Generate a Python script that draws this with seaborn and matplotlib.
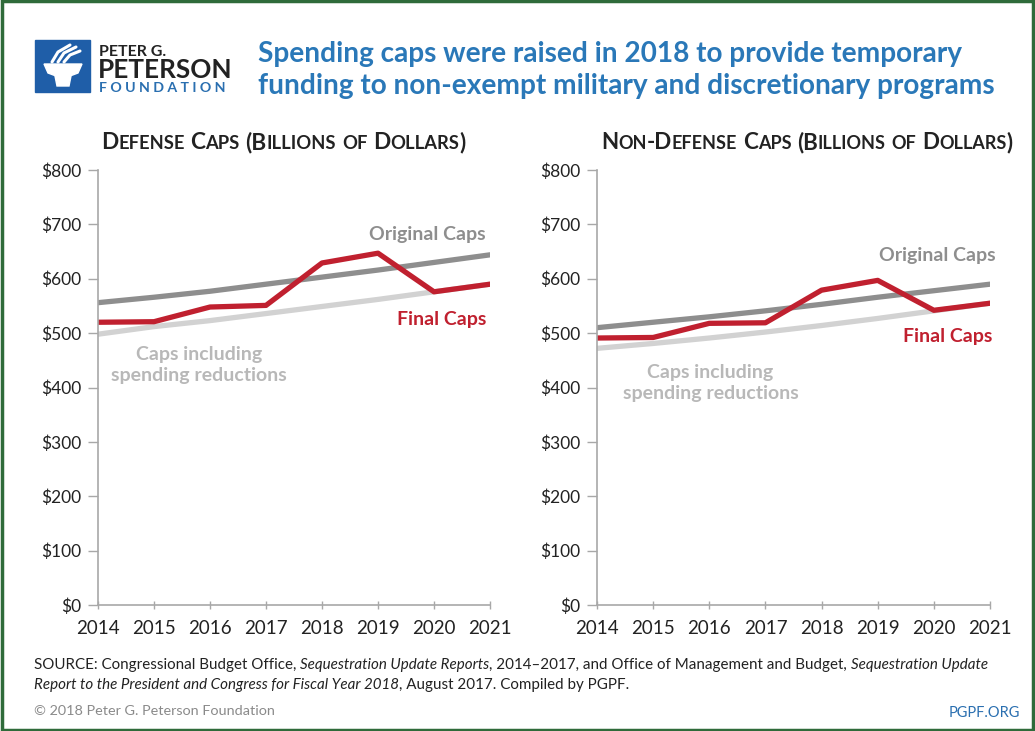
"""
plot.py
Spending caps chart (defense / non-defense), PGPF style.
Run: python plot.py  -> out.png
"""

import matplotlib
matplotlib.use("Agg")
import matplotlib.pyplot as plt
import matplotlib.ticker as mticker
from matplotlib.patches import Rectangle, Polygon
import pandas as pd
import seaborn as sns

W, H = 1035, 731

YEARS = [2014, 2015, 2016, 2017, 2018, 2019, 2020, 2021]

DEF_ORIGINAL = [556, 566, 577, 590, 603, 616, 630, 644]
DEF_REDUCED  = [498, 512, 523, 536, 549, 562, 576, 590]
DEF_FINAL    = [520, 521, 548, 551, 629, 647, 576, 590]

NON_ORIGINAL = [510, 520, 530, 541, 553, 566, 578, 590]
NON_REDUCED  = [472, 481, 491, 502, 514, 527, 541, 555]
NON_FINAL    = [491, 492, 518, 519, 579, 597, 542, 555]

Y_TICKS = [0, 100, 200, 300, 400, 500, 600, 700, 800]

RED   = "#c0202f"
DARK  = "#8e8e8e"
LIGHT = "#d2d2d2"
BLUE  = "#2a78b8"
TEXT  = "#222222"

sns.set_style("white")
plt.rcParams["font.family"] = ["Lato", "DejaVu Sans"]

fig = plt.figure(figsize=(W / 100, H / 100), dpi=100)
renderer = fig.canvas.get_renderer()


def px(x, y):
    # reference pixel -> figure fraction
    return x / W, 1 - y / H


def chain(x, y, parts, **kw):
    """Draw text pieces one after another on a common baseline."""
    cx = x
    for s, opts in parts:
        o = dict(kw)
        o.update(opts)
        t = fig.text(*px(cx, y), s, va="baseline", ha="left", **o)
        bb = t.get_window_extent(renderer)
        cx += bb.width if s.strip() else o.get("fontsize", 10) * 0.35
    return cx


def small_caps(x, y, text, big, small, **kw):
    # group runs of lowercase (-> small upper) and everything else (-> big)
    parts = []
    for ch in text:
        low = ch.islower()
        if parts and parts[-1][1] == low and ch != " " and parts[-1][0][-1] != " ":
            parts[-1][0] += ch
        else:
            parts.append([ch, low])
    pieces = [(s.upper(), {"fontsize": small if low else big}) for s, low in parts]
    chain(x, y, pieces, **kw)


def panel(rect, original, reduced, final, labels):
    ax = fig.add_axes(rect)
    df = pd.DataFrame({
        "year": YEARS * 3,
        "value": reduced + original + final,
        "series": ["reduced"] * 8 + ["original"] * 8 + ["final"] * 8,
    })
    sns.lineplot(data=df, x="year", y="value", hue="series",
                 palette={"reduced": LIGHT, "original": DARK, "final": RED},
                 linewidth=3.8, legend=False, ax=ax)
    ax.set_xlim(2014, 2021)
    ax.set_ylim(0, 800)
    ax.set_xticks(YEARS)
    ax.set_yticks(Y_TICKS)
    ax.yaxis.set_major_formatter(mticker.FuncFormatter(lambda v, p: f"${v:.0f}"))
    ax.set_xlabel("")
    ax.set_ylabel("")
    for s in ["top", "right"]:
        ax.spines[s].set_visible(False)
    for s in ["left", "bottom"]:
        ax.spines[s].set_color("#a8a8a8")
        ax.spines[s].set_linewidth(1.2)
    ax.tick_params(axis="y", length=7, width=1, color="#a8a8a8", pad=5,
                   labelsize=12.5, labelcolor=TEXT, left=True)
    ax.tick_params(axis="x", length=6, width=1, color="#a8a8a8", direction="inout",
                   pad=8, labelsize=13.5, labelcolor=TEXT, bottom=True)
    for txt, xy, color, ha in labels:
        ax.text(xy[0], xy[1], txt, color=color, fontsize=14, fontweight="bold",
                ha=ha, va="center", linespacing=1.3)
    return ax


x0, y0 = px(98, 605)
x1, y1 = px(490, 170)
panel([x0, y0, x1 - x0, y1 - y0], DEF_ORIGINAL, DEF_REDUCED, DEF_FINAL, [
    ("Original Caps", (2020.93, 682), DARK, "right"),
    ("Final Caps", (2020.93, 525), RED, "right"),
    ("Caps including\nspending reductions", (2015.8, 441), "#b8b8b8", "center"),
])

x0, y0 = px(597, 605)
x1, y1 = px(990, 170)
panel([x0, y0, x1 - x0, y1 - y0], NON_ORIGINAL, NON_REDUCED, NON_FINAL, [
    ("Original Caps", (2021.1, 642), DARK, "right"),
    ("Final Caps", (2021.05, 494), RED, "right"),
    ("Caps including\nspending reductions", (2016.02, 408), "#b8b8b8", "center"),
])

# panel titles in small caps
small_caps(101, 149, "Defense Caps (Billions of Dollars)", 16.3, 13.2,
           color=TEXT, fontweight="bold")
small_caps(601, 149, "Non-Defense Caps (Billions of Dollars)", 16.1, 13.0,
           color=TEXT, fontweight="bold")

# header title
fig.text(*px(258, 62), "Spending caps were raised in 2018 to provide temporary",
         color=BLUE, fontsize=20.2, fontweight="bold", va="baseline")
fig.text(*px(258, 94), "funding to non-exempt military and discretionary programs",
         color=BLUE, fontsize=20.2, fontweight="bold", va="baseline")

# logo
lx, ly = px(35, 92)
fig.patches.append(Rectangle((lx, ly), 55 / W, 52 / H, transform=fig.transFigure,
                             color="#1f5ea8", zorder=5))
bowl = [(44, 64), (82, 64), (78, 73), (70, 76), (56, 76), (48, 73)]
stem = [(55, 76), (71, 76), (69, 86), (57, 86)]
for shape in (bowl, stem):
    fig.patches.append(Polygon([px(a, b) for a, b in shape], closed=True,
                               transform=fig.transFigure, color="white", zorder=6))
for pts in ([(52, 62), (58, 52), (70, 45)], [(58, 62), (64, 53), (76, 47)],
            [(64, 62), (70, 55), (80, 51)]):
    xs, ys = zip(*[px(a, b) for a, b in pts])
    fig.add_artist(plt.Line2D(xs, ys, transform=fig.transFigure, color="white",
                              linewidth=2.2, zorder=6))

fig.text(*px(99, 56), "PETER G.", fontsize=11.5, fontweight="bold", color=TEXT,
         va="baseline")
fig.text(*px(98, 78), "PETERSON", fontsize=18.8, fontweight="bold", color=TEXT,
         va="baseline")
fig.text(*px(99, 92), "F O U N D A T I O N", fontsize=10.2, fontweight="bold",
         color="#2a6fb0", va="baseline")

# source note
it = {"style": "italic"}
chain(34, 669, [
    ("SOURCE: Congressional Budget Office, ", {}),
    ("Sequestration Update Reports", it),
    (", 2014\u20132017, and Office of Management and Budget, ", {}),
    ("Sequestration Update", it),
], fontsize=10.9, color=TEXT)
chain(34, 689, [
    ("Report to the President and Congress for Fiscal Year 2018", it),
    (", August 2017. Compiled by PGPF.", {}),
], fontsize=10.9, color=TEXT)

fig.text(*px(34, 715), "\u00a9 2018 Peter G. Peterson Foundation", fontsize=10.4,
         color="#8a8a8a", va="baseline")
fig.text(*px(1020, 717), "PGPF.ORG", fontsize=10.5, color="#2a6fb0", va="baseline",
         ha="right")

# outer frame
fig.patches.append(Rectangle((0.002, 0.002), 0.996, 0.996, transform=fig.transFigure,
                             fill=False, edgecolor="#2f6b3a", linewidth=2.5))

fig.savefig("out.png", dpi=100)
